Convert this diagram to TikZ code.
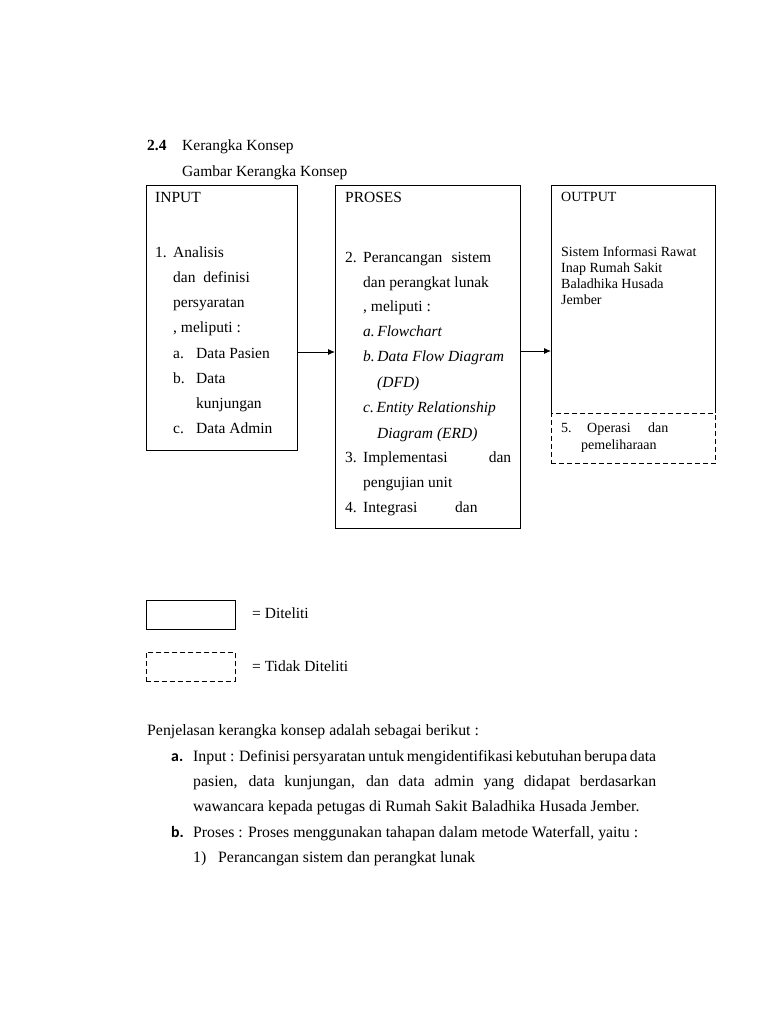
\documentclass[tikz,border=0pt]{standalone}
\usepackage{fontspec}
\setmainfont{Liberation Serif}
\newfontfamily\calib{Carlito}
\usetikzlibrary{arrows.meta}
\newcommand{\fs}{\fontsize{15.5}{18}\selectfont}
\newcommand{\fp}{\fontsize{15.8}{18}\selectfont}
\newcommand{\fo}{\fontsize{14}{16}\selectfont}
\tikzset{
  txt/.style={anchor=base west, inner sep=0pt, font=\fs},
  ptxt/.style={anchor=base west, inner sep=0pt, font=\fp},
  otxt/.style={anchor=base west, inner sep=0pt, font=\fo},
  box/.style={draw, line width=0.9pt, anchor=north west, inner sep=0pt},
  dbox/.style={draw, line width=0.9pt, anchor=north west, inner sep=0pt, dash pattern=on 5pt off 3pt},
  arr/.style={line width=0.9pt, -{Latex[length=7pt,width=6pt]}},
}
\begin{document}
\begin{tikzpicture}[x=1pt,y=-1pt]
\useasboundingbox[fill=white] (0,0) rectangle (768,1024);
% heading
\node[txt, font=\fs\bfseries] (h24) at (147,151) {2.4};
\node[txt] (h1) at (182,151) {Kerangka Konsep};
\node[txt] (h2) at (182,177) {Gambar Kerangka Konsep};
% boxes
\node[box, minimum width=151pt, minimum height=265pt] (input) at (146,185) {};
\node[box, minimum width=185pt, minimum height=343pt] (proses) at (335,185) {};
\node[anchor=north west, inner sep=0pt, minimum width=164pt, minimum height=228pt] (output) at (551,185) {};
\draw[line width=0.9pt] (output.south west) -- (output.north west) -- (output.north east) -- (output.south east);
\node[dbox, minimum width=164pt, minimum height=50pt] (opr) at (output.south west) {};
% arrows
\draw[arr] (input.east |- 0,352) -- (proses.west |- 0,352);
\draw[arr] (proses.east |- 0,351) -- (output.west |- 0,351);
% INPUT texts
\node[txt] (in0) at (155,203) {INPUT};
\node[txt] (in1n) at (155,258) {1.};
\node[txt] (in1) at (173,258) {Analisis};
\node[txt] (in2) at (173,282) {dan\ \ definisi};
\node[txt] (in3) at (173,307) {persyaratan};
\node[txt] (in4) at (173,332) {, meliputi :};
\node[txt] (ina) at (173,358) {a.};
\node[txt] (ina2) at (196,358) {Data Pasien};
\node[txt] (inb) at (173,383) {b.};
\node[txt] (inb2) at (196,383) {Data};
\node[txt] (inb3) at (196,408) {kunjungan};
\node[txt] (inc) at (173,433) {c.};
\node[txt] (inc2) at (196,433) {Data Admin};
% PROSES texts
\node[txt] (pr0) at (345,203) {PROSES};
\node[txt] (pr2n) at (345,262) {2.};
\node[txt] (pr2) at (363,262) {\makebox[128pt][s]{Perancangan sistem}};
\node[txt] (pr2b) at (363,287) {dan perangkat lunak};
\node[txt] (pr2c) at (363,311) {, meliputi :};
\node[txt, font=\fs\itshape] (pra) at (363,336) {a.\,Flowchart};
\node[txt, font=\fs\itshape] (prb) at (363,361) {b.\,Data Flow Diagram};
\node[txt, font=\fs\itshape] (prb2) at (377,387) {(DFD)};
\node[txt, font=\fs\itshape] (prc) at (363,412) {c.\,Entity Relationship};
\node[txt, font=\fs\itshape] (prc2) at (377,438) {Diagram (ERD)};
\node[txt] (pr3n) at (345,462) {3.};
\node[txt] (pr3) at (363,462) {\makebox[148pt][s]{Implementasi dan}};
\node[txt] (pr3b) at (363,487) {pengujian unit};
\node[txt] (pr4n) at (345,512) {4.};
\node[txt] (pr4) at (363,512) {Integrasi};
\node[txt] (pr4b) at (455,512) {dan};
% OUTPUT texts
\node[otxt] (ou0) at (561,202) {OUTPUT};
\node[otxt] (ou1) at (561,256) {Sistem Informasi Rawat};
\node[otxt] (ou2) at (561,272) {Inap Rumah Sakit};
\node[otxt] (ou3) at (561,288) {Baladhika Husada};
\node[otxt] (ou4) at (561,304) {Jember};
\node[otxt] (op1n) at (561,432) {5.};
\node[otxt] (op1) at (587,432) {Operasi};
\node[otxt] (op1b) at (648,432) {dan};
\node[otxt] (op2) at (581,449) {pemeliharaan};
% legend
\node[box, minimum width=89pt, minimum height=29pt] (lg1) at (146,600) {};
\node[txt] (lg1t) at (252,618) {= Diteliti};
\node[dbox, minimum width=89pt, minimum height=29pt] (lg2) at (146,652) {};
\node[txt] (lg2t) at (252,671) {= Tidak Diteliti};
% paragraph
\node[ptxt] (p0) at (147,735) {Penjelasan kerangka konsep adalah sebagai berikut :};
\node[ptxt, font=\fp\calib\bfseries] (pa) at (171,761) {a.};
\node[ptxt] (pa1) at (193,761) {Input};
\node[ptxt] (pa2) at (230,761) {\makebox[426pt][s]{: Definisi persyaratan untuk mengidentifikasi kebutuhan berupa data}};
\node[ptxt] (pa3) at (193,786) {\makebox[463pt][s]{pasien, data kunjungan, dan data admin yang didapat berdasarkan}};
\node[ptxt] (pa4) at (193,811) {wawancara kepada petugas di Rumah Sakit Baladhika Husada Jember.};
\node[ptxt, font=\fp\calib\bfseries] (pb) at (171,837) {b.};
\node[ptxt] (pb1) at (193,837) {Proses : Proses menggunakan tahapan dalam metode Waterfall, yaitu :};
\node[ptxt] (pc0) at (193,862) {1)};
\node[ptxt] (pc1) at (218,862) {Perancangan sistem dan perangkat lunak};
\end{tikzpicture}
\end{document}
